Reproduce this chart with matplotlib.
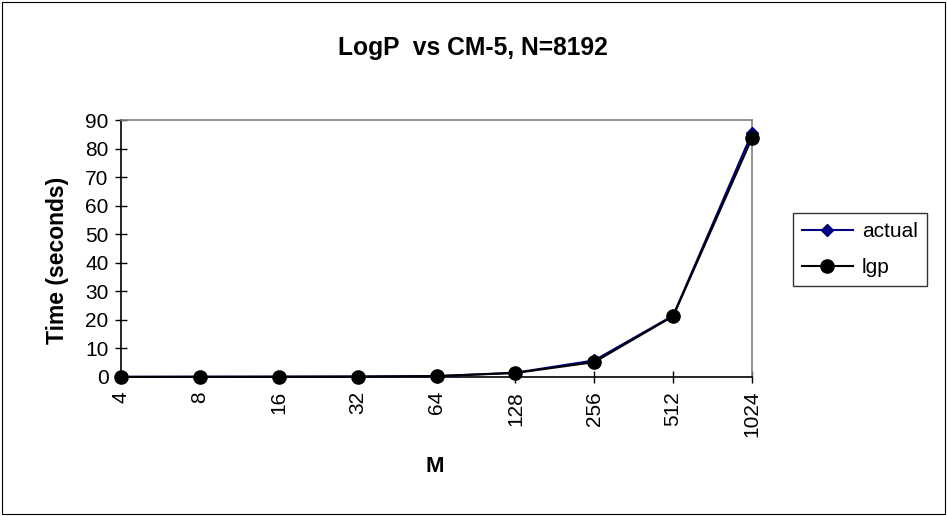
import matplotlib
matplotlib.use("Agg")
import matplotlib.pyplot as plt
from matplotlib.patches import Rectangle

plt.rcParams['font.family'] = ['Liberation Sans', 'DejaVu Sans']

M = ["4", "8", "16", "32", "64", "128", "256", "512", "1024"]
actual = [0.05, 0.08, 0.1, 0.15, 0.3, 1.5, 5.8, 21.5, 85.5]
lgp = [0.05, 0.08, 0.1, 0.15, 0.3, 1.4, 5.2, 21.3, 83.7]
yticks = [0, 10, 20, 30, 40, 50, 60, 70, 80, 90]

fig = plt.figure(figsize=(9.47, 5.16), dpi=100)
fig.patches.append(Rectangle((0.002, 0.003), 0.996, 0.994, transform=fig.transFigure,
                             fill=False, edgecolor='black', linewidth=0.8))
ax = fig.add_axes([0.1278, 0.2694, 0.6663, 0.4980])

x = list(range(len(M)))
ax.plot(x, actual, color='#000080', marker='D', markersize=6.5, linewidth=1.5,
        label='actual', clip_on=False, zorder=3)
ax.plot(x, lgp, color='black', marker='o', markersize=9.5, linewidth=1.5,
        label='lgp', clip_on=False, zorder=4)

ax.set_xlim(0, len(M) - 1)
ax.set_ylim(0, 90)
ax.set_yticks(yticks)
ax.set_xticks(x)
ax.set_xticklabels(M, rotation=90)
ax.tick_params(axis='both', direction='inout', length=8, width=1, labelsize=15, color='black')
ax.tick_params(axis='x', pad=6)
ax.tick_params(axis='y', pad=5)
for s in ['top', 'right']:
    ax.spines[s].set_color('#808080')
    ax.spines[s].set_linewidth(1.2)
for s in ['left', 'bottom']:
    ax.spines[s].set_color('black')
    ax.spines[s].set_linewidth(1.2)

fig.text(0.499, 1 - 55 / 516, 'LogP  vs CM-5, N=8192', ha='center', va='baseline',
         fontsize=17.7, fontweight='bold')
fig.text(0.4594, 1 - 472 / 516, 'M', ha='center', va='baseline', fontsize=16, fontweight='bold')
fig.text(0.061, 0.496, 'Time (seconds)', ha='center', va='center', rotation=90,
         fontsize=16.5, fontweight='bold')

leg = fig.legend(loc='center', bbox_to_anchor=(0.908, 0.5165), frameon=True,
                 fancybox=False, edgecolor='black', fontsize=15, handlelength=2.45,
                 borderpad=0.45, labelspacing=0.8, handletextpad=0.43, borderaxespad=0)
leg.get_frame().set_linewidth(1.0)

fig.savefig('out.png', dpi=100)
